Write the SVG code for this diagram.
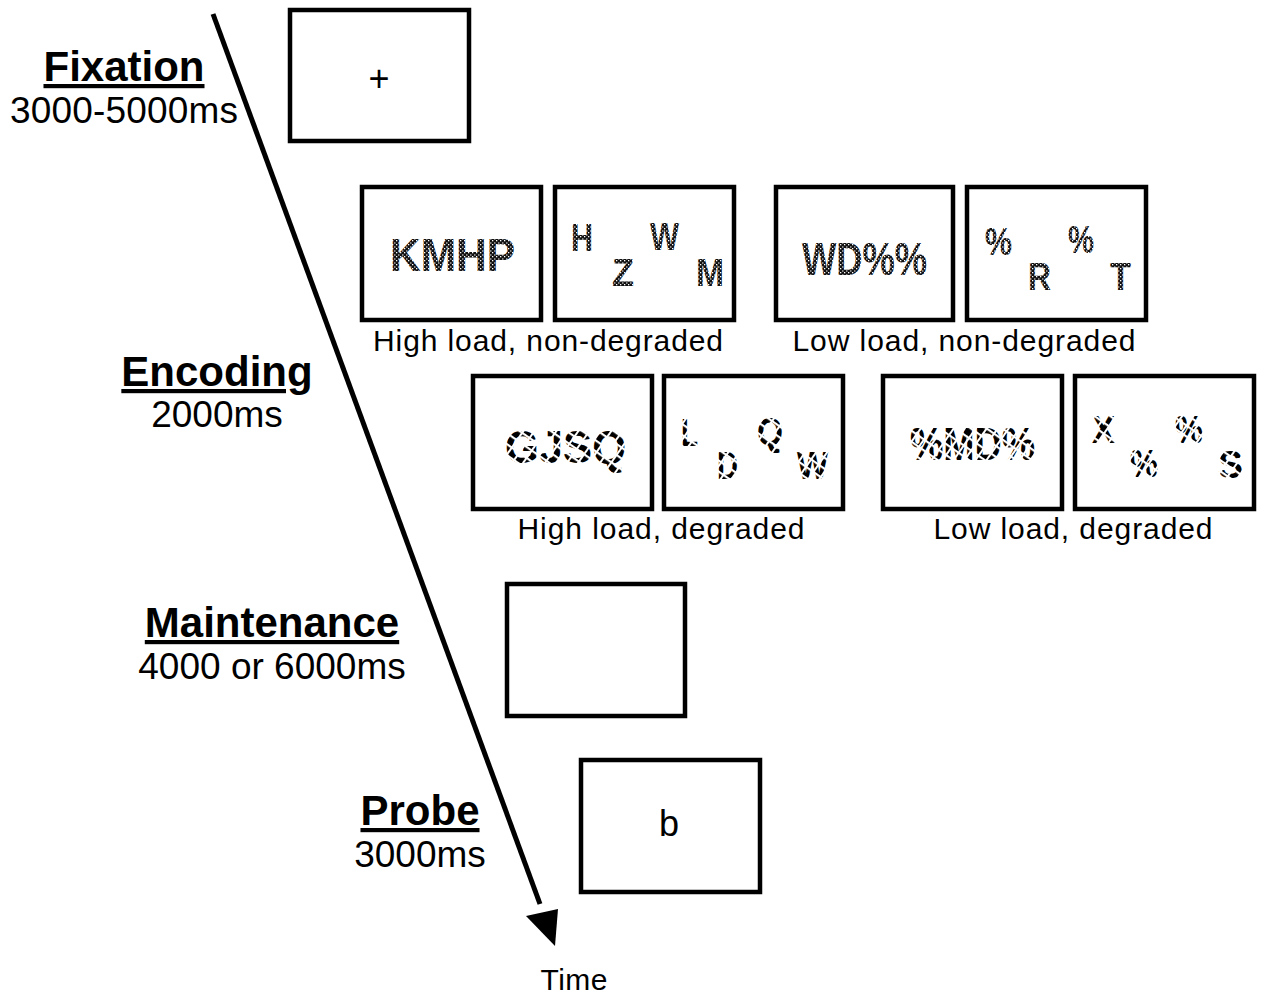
<svg xmlns="http://www.w3.org/2000/svg" width="1267" height="998" viewBox="0 0 1267 998">
<style>
.box{fill:#fff;stroke:#000;stroke-width:4.5}
.t{font-family:"Liberation Sans",Arial,sans-serif;fill:#000}
.h{font-weight:bold;font-size:42px;text-decoration:underline;text-anchor:middle}
.s{font-size:37px;text-anchor:middle}
.lab{font-size:30px;text-anchor:middle}
.big{font-size:46px;font-weight:bold}
.sm{font-size:38px;font-weight:bold}
.nd{fill:url(#speck)}
.dg{fill:url(#broken)}
</style>
<defs>
<pattern id="speck" width="4" height="4" patternUnits="userSpaceOnUse">
<rect width="4" height="4" fill="#111"/>
<rect x="0" y="0" width="1.3" height="1.3" fill="#fff"/>
<rect x="2.2" y="2.4" width="1.2" height="1.2" fill="#fff"/>
</pattern>
<pattern id="broken" width="9" height="9" patternUnits="userSpaceOnUse" patternTransform="rotate(35)">
<rect width="9" height="9" fill="#000"/>
<rect x="0" y="0" width="9" height="2.2" fill="#fff"/>
<rect x="0" y="0" width="2" height="9" fill="#fff"/>
</pattern>
</defs>
<rect width="1267" height="998" fill="#fff"/>

<g id="connectors">
<line x1="213" y1="14" x2="540" y2="904" stroke="#000" stroke-width="5"/>
<polygon points="555,946 526,916 558,909" fill="#000"/>
</g>

<g id="label-fixation">
<text class="t h" x="124" y="81">Fixation</text>
<text class="t s" x="124" y="123" textLength="228">3000-5000ms</text>
</g>
<g id="label-encoding">
<text class="t h" x="217" y="386">Encoding</text>
<text class="t s" x="217" y="427">2000ms</text>
</g>
<g id="label-maintenance">
<text class="t h" x="272" y="637">Maintenance</text>
<text class="t s" x="272" y="679">4000 or 6000ms</text>
</g>
<g id="label-probe">
<text class="t h" x="420" y="825">Probe</text>
<text class="t s" x="420" y="867">3000ms</text>
</g>

<g id="fixation-box">
<rect class="box" x="290" y="10" width="179" height="131"/>
<text class="t" x="379" y="91" font-size="36" text-anchor="middle">+</text>
</g>

<g id="enc-high-nd-1">
<rect class="box" x="362" y="187" width="179" height="133"/>
<text class="t big nd" x="390" y="271" textLength="125" lengthAdjust="spacingAndGlyphs">KMHP</text>
</g>
<g id="enc-high-nd-2">
<rect class="box" x="555" y="187" width="179" height="133"/>
<g class="t sm nd">
<text x="571" y="251" textLength="22" lengthAdjust="spacingAndGlyphs">H</text>
<text x="612" y="286" textLength="22" lengthAdjust="spacingAndGlyphs">Z</text>
<text x="650" y="250" textLength="29" lengthAdjust="spacingAndGlyphs">W</text>
<text x="696" y="286" textLength="28" lengthAdjust="spacingAndGlyphs">M</text>
</g>
</g>
<g id="enc-low-nd-1">
<rect class="box" x="776" y="187" width="177" height="133"/>
<text class="t big nd" x="802" y="275" textLength="125" lengthAdjust="spacingAndGlyphs">WD%%</text>
</g>
<g id="enc-low-nd-2">
<rect class="box" x="967" y="187" width="179" height="133"/>
<g class="t sm nd">
<text x="985" y="255" textLength="27" lengthAdjust="spacingAndGlyphs">%</text>
<text x="1028" y="290" textLength="23" lengthAdjust="spacingAndGlyphs">R</text>
<text x="1068" y="253" textLength="26" lengthAdjust="spacingAndGlyphs">%</text>
<text x="1110" y="290" textLength="21" lengthAdjust="spacingAndGlyphs">T</text>
</g>
</g>
<text class="t lab" x="548" y="351" textLength="350">High load, non-degraded</text>
<text class="t lab" x="964" y="351" textLength="343">Low load, non-degraded</text>

<g id="enc-high-d-1">
<rect class="box" x="473" y="376" width="179" height="133"/>
<text class="t big dg" x="505" y="463" textLength="121" lengthAdjust="spacingAndGlyphs">GJSQ</text>
</g>
<g id="enc-high-d-2">
<rect class="box" x="664" y="376" width="179" height="133"/>
<g class="t sm dg">
<text x="681" y="446" textLength="17" lengthAdjust="spacingAndGlyphs">L</text>
<text x="717" y="479" textLength="21" lengthAdjust="spacingAndGlyphs">D</text>
<text x="757" y="445" textLength="26" lengthAdjust="spacingAndGlyphs">Q</text>
<text x="797" y="479" textLength="31" lengthAdjust="spacingAndGlyphs">W</text>
</g>
</g>
<g id="enc-low-d-1">
<rect class="box" x="883" y="376" width="179" height="133"/>
<text class="t big dg" x="910" y="460" textLength="125" lengthAdjust="spacingAndGlyphs">%MD%</text>
</g>
<g id="enc-low-d-2">
<rect class="box" x="1075" y="376" width="179" height="133"/>
<g class="t sm dg">
<text x="1092" y="443" textLength="23" lengthAdjust="spacingAndGlyphs">X</text>
<text x="1130" y="477" textLength="28" lengthAdjust="spacingAndGlyphs">%</text>
<text x="1175" y="443" textLength="28" lengthAdjust="spacingAndGlyphs">%</text>
<text x="1218" y="478" textLength="25" lengthAdjust="spacingAndGlyphs">S</text>
</g>
</g>
<text class="t lab" x="661" y="539" textLength="287">High load, degraded</text>
<text class="t lab" x="1073" y="539" textLength="279">Low load, degraded</text>

<g id="maintenance-box">
<rect class="box" x="507" y="584" width="178" height="132"/>
</g>
<g id="probe-box">
<rect class="box" x="581" y="760" width="179" height="132"/>
<text class="t" x="669" y="836" font-size="36" text-anchor="middle">b</text>
</g>
<text id="time-label" class="t" x="574" y="990" font-size="30" text-anchor="middle" textLength="67">Time</text>
</svg>
